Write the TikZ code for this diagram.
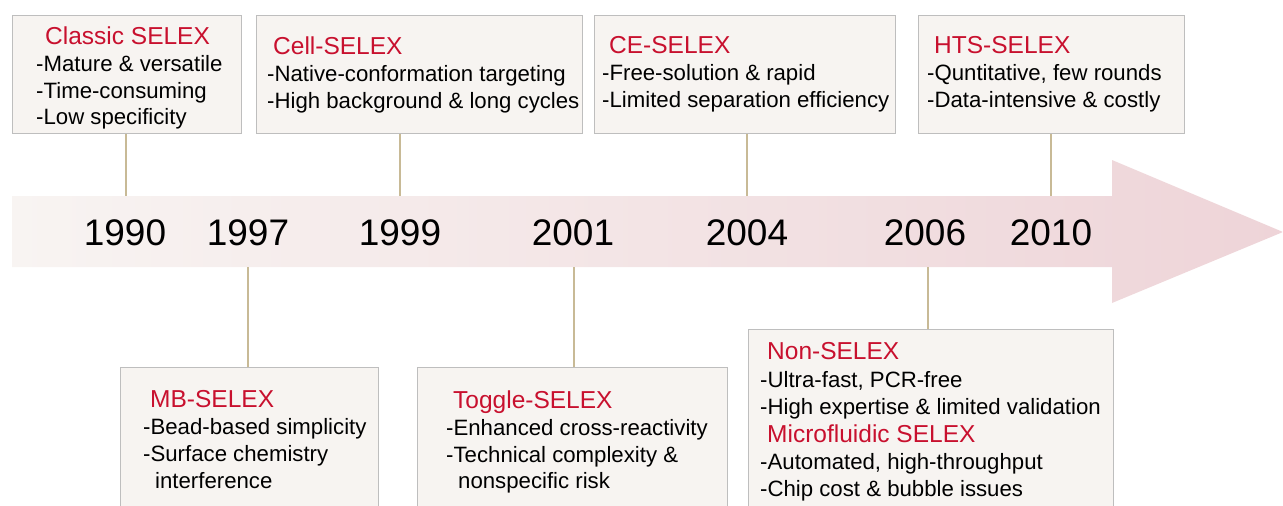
\documentclass[tikz,border=0pt]{standalone}
\usepackage{fontspec}
\setmainfont{Liberation Sans}
\definecolor{selred}{RGB}{200,16,46}
\definecolor{boxfill}{RGB}{247,244,241}
\definecolor{boxline}{RGB}{190,190,190}
\definecolor{stem}{RGB}{200,186,150}
\definecolor{arrL}{RGB}{248,244,242}
\definecolor{arrR}{RGB}{238,212,216}
\newcommand{\ttl}[1]{{\fontsize{24.5}{26.8}\selectfont\textcolor{selred}{#1}}}
\begin{document}
\begin{tikzpicture}[x=1pt,y=-1pt,
  box/.style={draw=boxline, fill=boxfill, line width=0.9pt, inner sep=0, anchor=north west},
  txt/.style={anchor=north west, inner sep=0, align=left, font=\fontsize{22.2}{26.8}\selectfont},
  yr/.style={font=\fontsize{37}{40}\selectfont, inner sep=0},
  stemline/.style={draw=stem, line width=1.8pt}]
\useasboundingbox (0,0) rectangle (1283,506);
% timeline arrow
\path[left color=arrL, right color=arrR] (12,196) -- (1112,196) -- (1112,160) -- (1283,232) -- (1112,303) -- (1112,267) -- (12,267) -- cycle;
% years
\node[yr] (y1990) at (125,233) {1990};
\node[yr] (y1997) at (248,233) {1997};
\node[yr] (y1999) at (400,233) {1999};
\node[yr] (y2001) at (573,233) {2001};
\node[yr] (y2004) at (747,233) {2004};
\node[yr] (y2006) at (925,233) {2006};
\node[yr] (y2010) at (1051,233) {2010};
% anchor points on the arrow
\coordinate (a1) at (126,196);
\coordinate (a3) at (400,196);
\coordinate (a5) at (747,196);
\coordinate (a7) at (1051,196);
\coordinate (a2) at (248,267);
\coordinate (a4) at (574,267);
\coordinate (a6) at (928,267);
% boxes
\node[box, minimum width=229pt, minimum height=118pt] (b1) at (12,15) {};
\node[box, minimum width=326pt, minimum height=118pt] (b3) at (256,15) {};
\node[box, minimum width=301pt, minimum height=118pt] (b5) at (594,15) {};
\node[box, minimum width=266pt, minimum height=118pt] (b7) at (918,15) {};
\node[box, minimum width=258pt, minimum height=160pt] (b2) at (120,367) {};
\node[box, minimum width=310pt, minimum height=160pt] (b4) at (417,367) {};
\node[box, minimum width=365pt, minimum height=200pt] (b6) at (748,329) {};
% stems
\draw[stemline] (b1.south -| a1) -- (a1);
\draw[stemline] (b3.south -| a3) -- (a3);
\draw[stemline] (b5.south -| a5) -- (a5);
\draw[stemline] (b7.south -| a7) -- (a7);
\draw[stemline] (a2) -- (a2 |- b2.north);
\draw[stemline] (a4) -- (a4 |- b4.north);
\draw[stemline] (a6) -- (a6 |- b6.north);
% texts
\node[txt] (t1) at (36,26.5) {\hspace*{9pt}\ttl{Classic SELEX}\\-Mature \& versatile\\-Time-consuming\\-Low specificity};
\node[txt] (t3) at (267,36.5) {\hspace*{6pt}\ttl{Cell-SELEX}\\-Native-conformation targeting\\-High background \& long cycles};
\node[txt] (t5) at (602,36.5) {\hspace*{7pt}\ttl{CE-SELEX}\\-Free-solution \& rapid\\-Limited separation efficiency};
\node[txt] (t7) at (927,36.5) {\hspace*{7pt}\ttl{HTS-SELEX}\\-Quntitative, few rounds\\-Data-intensive \& costly};
\node[txt] (t2) at (143,390.5) {\hspace*{7pt}\ttl{MB-SELEX}\\-Bead-based simplicity\\-Surface chemistry\\\hspace*{12pt}interference};
\node[txt] (t4) at (446,390.5) {\hspace*{7pt}\ttl{Toggle-SELEX}\\-Enhanced cross-reactivity\\-Technical complexity \&\\\hspace*{12pt}nonspecific risk};
\node[txt, font=\fontsize{22.2}{27.4}\selectfont] (t6) at (760,342.5) {\hspace*{7pt}\ttl{Non-SELEX}\\-Ultra-fast, PCR-free\\-High expertise \& limited validation\\\hspace*{7pt}\ttl{Microfluidic SELEX}\\-Automated, high-throughput\\-Chip cost \& bubble issues};
\end{tikzpicture}
\end{document}
